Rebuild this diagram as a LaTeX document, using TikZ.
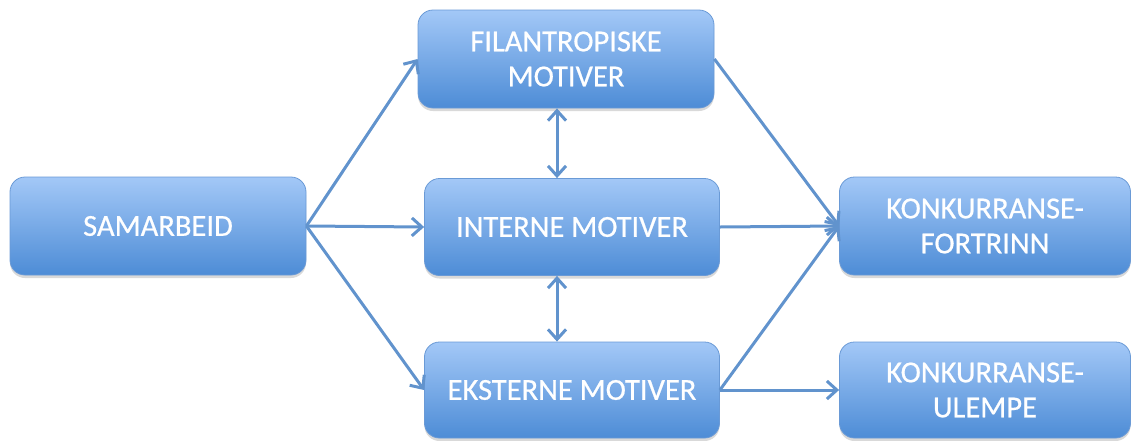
\documentclass[tikz,border=0pt]{standalone}
\usepackage{fontspec}
\setmainfont{Carlito}
\newfontfamily\boxfont[FakeBold=0.6]{Carlito}
\usetikzlibrary{arrows.meta,shadows}
\definecolor{boxtop}{HTML}{A3C8F7}
\definecolor{boxbot}{HTML}{4D8CD6}
\definecolor{boxline}{HTML}{6A9AD6}
\definecolor{arrowc}{HTML}{6193CD}
\tikzset{
  mbox/.style={draw=boxline, line width=0.8pt, rounded corners=15pt,
    top color=boxtop, bottom color=boxbot,
    minimum width=296pt, minimum height=98pt, inner sep=0pt,
    align=center, text=white, font=\boxfont\fontsize{30.5}{35}\selectfont,
    drop shadow={shadow xshift=0pt, shadow yshift=-3pt, opacity=0.25, fill=black!60}},
  conn/.style={draw=arrowc, line width=3pt, -{Straight Barb[length=10pt,width=18pt,line width=3pt]}},
  dconn/.style={draw=arrowc, line width=3pt, {Straight Barb[length=10pt,width=18pt,line width=3pt]}-{Straight Barb[length=10pt,width=18pt,line width=3pt]}}
}
\begin{document}
\begin{tikzpicture}[x=1pt,y=-1pt]
\useasboundingbox (0,0) rectangle (1133,440);
\node[mbox] (sam) at (158,226) {SAMARBEID};
\node[mbox] (fil) at (566,59) {FILANTROPISKE\\MOTIVER};
\node[mbox, minimum width=295pt, minimum height=97pt] (int) at (572,227) {INTERNE MOTIVER};
\node[mbox, minimum width=295pt, minimum height=96pt] (ext) at (572,390) {EKSTERNE MOTIVER};
\node[mbox, minimum width=291pt] (kf) at (985,226) {KONKURRANSE-\\FORTRINN};
\node[mbox, minimum width=291pt, minimum height=96pt] (ku) at (985,390) {KONKURRANSE-\\ULEMPE};
\coordinate (vx) at (557,0);
\draw[conn] (sam.east) -- (fil.west);
\draw[conn] (sam.east) -- (int.west);
\draw[conn] (sam.east) -- (ext.west);
\draw[conn] (fil.east) -- (kf.west);
\draw[conn] (int.east) -- (kf.west);
\draw[conn] (ext.east) -- (kf.west);
\draw[conn] (ext.east) -- (ku.west);
\draw[dconn] (fil.south -| vx) -- (int.north -| vx);
\draw[dconn] (int.south -| vx) -- (ext.north -| vx);
\end{tikzpicture}
\end{document}
